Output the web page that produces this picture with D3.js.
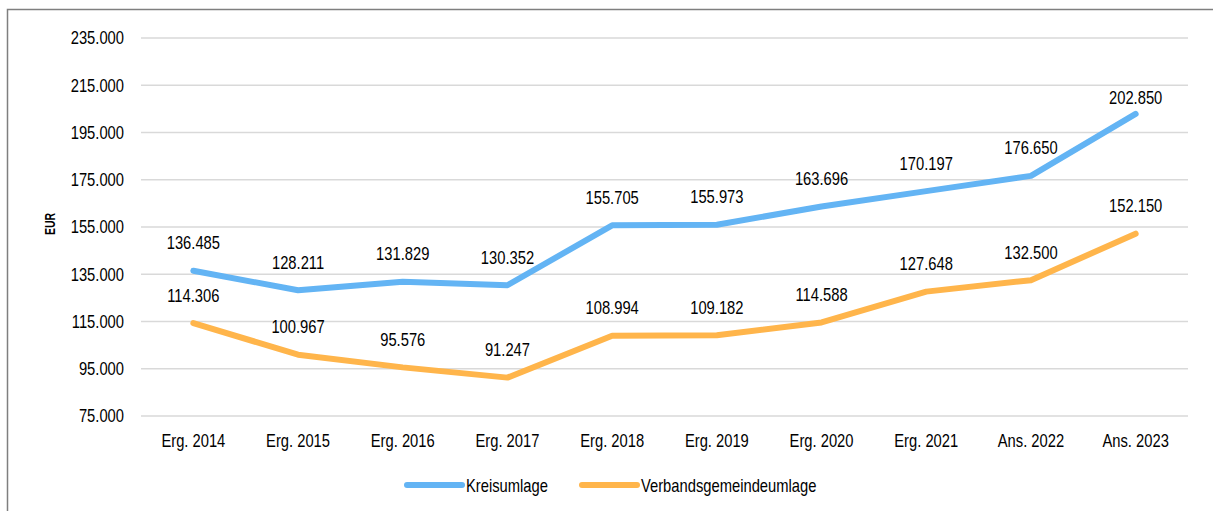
<!DOCTYPE html>
<html>
<head>
<meta charset="utf-8">
<script src="https://cdn.jsdelivr.net/npm/d3@7"></script>
<style>
  body { margin: 0; background: #fff; }
  text { font-family: "Liberation Sans", Arial, sans-serif; fill: #000; }
</style>
</head>
<body>
<div id="app"></div>
<script>
const categories = ['Erg. 2014', 'Erg. 2015', 'Erg. 2016', 'Erg. 2017', 'Erg. 2018',
    'Erg. 2019', 'Erg. 2020', 'Erg. 2021', 'Ans. 2022', 'Ans. 2023'];
const kreisumlage = [136485, 128211, 131829, 130352, 155705, 155973, 163696, 170197, 176650, 202850];
const verbandsgemeindeumlage = [114306, 100967, 95576, 91247, 108994, 109182, 114588, 127648, 132500, 152150];
const yTicks = [75000, 95000, 115000, 135000, 155000, 175000, 195000, 215000, 235000];
const seriesNames = ['Kreisumlage', 'Verbandsgemeindeumlage'];
const seriesColors = ['#63b4f4', '#ffb54b'];

const W = 1213, H = 511;
const margin = { left: 141, right: 25, top: 38, bottom: 95 };
const FONT = '"Liberation Sans", Arial, sans-serif';
const SX = 0.82; // narrow look of the original lettering

const svg = d3.select('#app')
    .append('svg')
    .attr('width', W)
    .attr('height', H);

// outer frame
svg.append('rect')
    .attr('x', 7.5)
    .attr('y', 9.5)
    .attr('width', W + 10)
    .attr('height', H + 10)
    .attr('fill', 'none')
    .attr('stroke', '#7f7f7f')
    .attr('stroke-width', 1.5);

const x = d3.scaleBand()
    .domain(categories)
    .range([margin.left, W - margin.right]);

const y = d3.scaleLinear()
    .domain([75000, 235000])
    .range([H - margin.bottom, margin.top]);

const fmt = v => d3.format(',')(v).replace(/,/g, '.');

// gridlines
svg.append('g')
    .selectAll('line')
    .data(yTicks)
    .join('line')
    .attr('x1', margin.left)
    .attr('x2', W - margin.right)
    .attr('y1', d => y(d))
    .attr('y2', d => y(d))
    .attr('stroke', '#d9d9d9')
    .attr('stroke-width', 1.5);

// y axis labels
const yAxis = svg.append('g')
    .attr('transform', `translate(${margin.left - 17},0)`)
    .call(d3.axisLeft(y).tickValues(yTicks).tickFormat(fmt).tickSize(0).tickPadding(0));
yAxis.select('.domain').remove();
yAxis.selectAll('text')
    .attr('x', 0)
    .attr('transform', `scale(${SX},1)`)
    .style('font-size', '18px')
    .style('font-family', FONT)
    .attr('fill', '#000');

// x axis labels
const xAxis = svg.append('g')
    .attr('transform', `translate(0,${y(75000) + 18})`)
    .call(d3.axisBottom(x).tickSize(0).tickPadding(0));
xAxis.select('.domain').remove();
xAxis.selectAll('text')
    .attr('y', 0)
    .attr('transform', `scale(${SX},1)`)
    .style('font-size', '18px')
    .style('font-family', FONT)
    .attr('fill', '#000');

// y title
svg.append('text')
    .attr('transform', `translate(55,${(y(75000) + y(235000)) / 2 - 3}) rotate(-90) scale(0.7,1)`)
    .attr('text-anchor', 'middle')
    .style('font-size', '15px')
    .style('font-weight', 'bold')
    .text('EUR');

const line = d3.line()
    .x((d, i) => x(categories[i]) + x.bandwidth() / 2)
    .y(d => y(d));

const series = [kreisumlage, verbandsgemeindeumlage];

series.forEach((vals, s) => {
    svg.append('path')
        .datum(vals)
        .attr('d', line)
        .attr('fill', 'none')
        .attr('stroke', seriesColors[s])
        .attr('stroke-width', 6)
        .attr('stroke-linecap', 'round')
        .attr('stroke-linejoin', 'round');

    svg.append('g')
        .selectAll('text')
        .data(vals)
        .join('text')
        // keep labels from climbing too high near the top
        .attr('transform', (d, i) => {
            const lx = x(categories[i]) + x.bandwidth() / 2;
            const ly = Math.max(y(d) - 21.5, y(207000));
            return `translate(${lx},${ly}) scale(${SX},1)`;
        })
        .attr('text-anchor', 'middle')
        .style('font-size', '18px')
        .text(fmt);
});

// legend
const legend = svg.append('g');
const legendItems = [{ x1: 407, name: seriesNames[0] }, { x1: 582, name: seriesNames[1] }];
legendItems.forEach((it, s) => {
    legend.append('line')
        .attr('x1', it.x1)
        .attr('x2', it.x1 + 55)
        .attr('y1', 485)
        .attr('y2', 485)
        .attr('stroke', seriesColors[s])
        .attr('stroke-width', 6)
        .attr('stroke-linecap', 'round');
    legend.append('text')
        .attr('transform', `translate(${it.x1 + 59},491.5) scale(${SX},1)`)
        .style('font-size', '18px')
        .text(it.name);
});
</script>
</body>
</html>
